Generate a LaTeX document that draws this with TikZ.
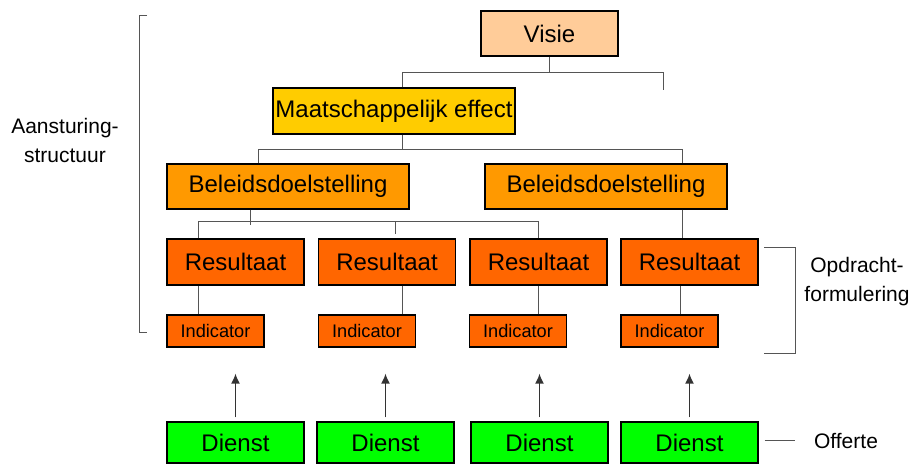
\documentclass[tikz,border=0pt]{standalone}
\usepackage{fontspec}
\setmainfont{Liberation Sans}
\usetikzlibrary{arrows.meta,positioning}

\newcommand\boxfont{\fontsize{12}{14}\selectfont}
\newcommand\indfont{\fontsize{9.1}{11}\selectfont}
\newcommand\labfont{\fontsize{10.5}{14.5}\selectfont}

\definecolor{peach}{HTML}{FFCC99}
\definecolor{gold}{HTML}{FFCC00}
\definecolor{amber}{HTML}{FF9900}
\definecolor{rust}{HTML}{FF6600}
\definecolor{lime}{HTML}{00FF00}
\definecolor{wire}{HTML}{555555}

\begin{document}
\begin{tikzpicture}
    [x=0.5pt,y=-0.5pt,inner sep=0pt,
    box/.style={rectangle,draw=black,line width=0.6pt,font=\boxfont},
    visiebox/.style={box,fill=peach,minimum width=68.5pt,minimum height=22.5pt},
    effect/.style={box,fill=gold,minimum width=121pt,minimum height=23pt},
    goal/.style={box,fill=amber,minimum width=121pt,minimum height=22.5pt},
    result/.style={box,fill=rust,minimum width=68.5pt,minimum height=23pt},
    indicator/.style={box,fill=rust,minimum width=48.5pt,minimum height=16pt,font=\indfont},
    service/.style={box,fill=lime,minimum width=68.5pt,minimum height=20.5pt},
    conn/.style={draw=wire,line width=0.5pt},
    arr/.style={-{Latex[length=5pt,width=4.5pt]},draw=black!80,line width=0.8pt,shorten <=2pt,shorten >=13pt},
    lab/.style={align=center,font=\labfont}]
    \useasboundingbox (0,0) rectangle (914,465);

    % boxes
    \node (visie) at (549.5,33.5) [visiebox] {Visie};
    \node (maat) at (394,111) [effect] {Maatschappelijk effect};
    \node (b1) at (288,186.5) [goal] {Beleidsdoelstelling};
    \node (b2) at (606,186.5) [goal] {Beleidsdoelstelling};
    \node (r1) at (235.5,262) [result] {Resultaat};
    \node (r2) at (387,262) [result] {Resultaat};
    \node (r3) at (538.5,262) [result] {Resultaat};
    \node (r4) at (689.5,262) [result] {Resultaat};
    \node (i1) at (215.5,331) [indicator] {Indicator};
    \node (i2) at (367,331) [indicator] {Indicator};
    \node (i3) at (518,331) [indicator] {Indicator};
    \node (i4) at (669.5,331) [indicator] {Indicator};
    \node (d1) at (235.5,442.5) [service] {Dienst};
    \node (d2) at (385.5,442.5) [service] {Dienst};
    \node (d3) at (539.5,442.5) [service] {Dienst};
    \node (d4) at (689.5,442.5) [service] {Dienst};

    % tree lines
    \coordinate (vleft) at (402,73);
    \coordinate (vright) at (663,73);
    \draw[conn] (visie.south) -- (visie.south |- vleft);
    \draw[conn] (maat.north -| vleft) -- (vleft) -- (vright) -- ++(0,17);

    \coordinate (mleft) at (258,149);
    \coordinate (mright) at (682,149);
    \draw[conn] (maat.south -| vleft) -- (vleft |- mleft);
    \draw[conn] (b1.north -| mleft) -- (mleft) -- (mright) -- (b2.north -| mright);

    \coordinate (bleft) at (198,221);
    \coordinate (bmid) at (395,221);
    \coordinate (bright) at (538,221);
    \draw[conn] (b1.south -| 250,0) -- ++(0,15);
    \draw[conn] (r1.north -| bleft) -- (bleft) -- (bright) -- (r3.north -| bright);
    \draw[conn] (bmid) -- ++(0,13);
    \draw[conn] (b2.south -| mright) -- (r4.north -| mright);

    \draw[conn] (r1.south -| bleft) -- (i1.north -| bleft);
    \draw[conn] (r2.south -| 402,0) -- (i2.north -| 402,0);
    \draw[conn] (r3.south -| bright) -- (i3.north -| bright);
    \draw[conn] (r4.south -| 680,0) -- (i4.north -| 680,0);

    % offers
    \draw[arr] (d1.north) -- (d1.north |- i1.south);
    \draw[arr] (d2.north) -- (d2.north |- i2.south);
    \draw[arr] (d3.north) -- (d3.north |- i3.south);
    \draw[arr] (d4.north) -- (d4.north |- i4.south);

    % side labels
    \draw[conn] (147,16) -- (139,16) -- (139,332) -- (147,332);
    \node (sturing) at (65,140) [lab] {Aansturing-\\structuur};
    \draw[conn] (764,247) -- (795,247) -- (795,353) -- (764,353);
    \node (opdracht) at (857,282) [lab] {Opdracht-\\formulering};
    \node (offerte) at (846,441) [lab] {Offerte};
    \draw[conn] (d4.east) ++(6,-2.5) -- ++(30,0);
\end{tikzpicture}
\end{document}
